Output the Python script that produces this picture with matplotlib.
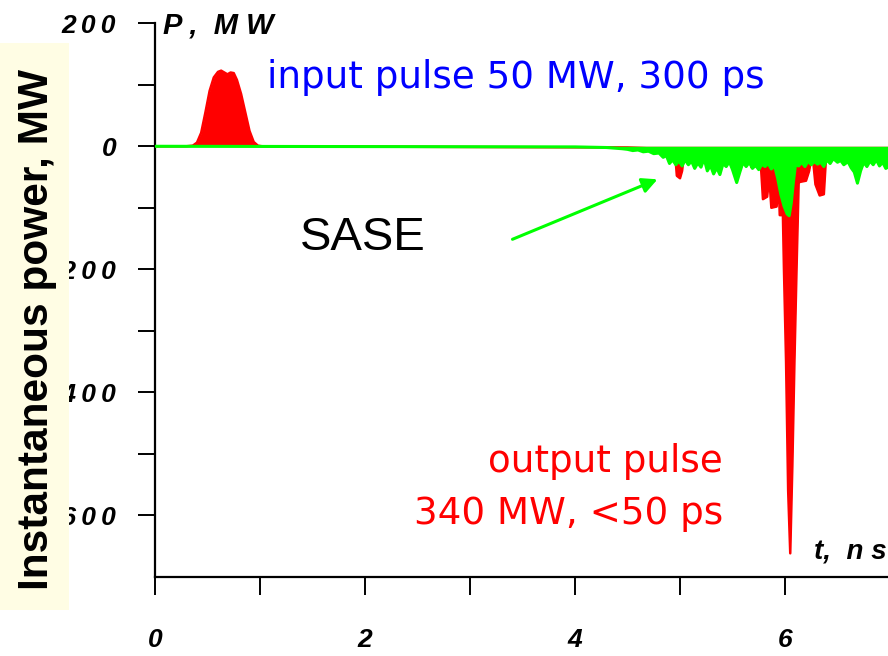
import matplotlib.pyplot as plt
from matplotlib.patches import Rectangle

# output pulse (red), MW; the amplified part is drawn downward
red_t = [0.00, 0.30, 0.36, 0.40, 0.44, 0.48, 0.52, 0.56, 0.60, 0.63, 0.66, 0.69,
         0.72, 0.75, 0.78, 0.82, 0.86, 0.90, 0.94, 0.98, 1.02, 4.50, 4.95, 4.97,
         5.00, 5.02, 5.04, 5.07, 5.09, 5.50, 5.66, 5.68, 5.72, 5.74, 5.77, 5.79,
         5.83, 5.85, 5.87, 5.92, 5.94, 5.95, 5.98, 5.99, 6.01, 6.03, 6.05, 6.07,
         6.09, 6.11, 6.13, 6.14, 6.20, 6.23, 6.26, 6.29, 6.33, 6.37, 6.39, 6.45,
         7.00]
red_p = [0, 0, 1, 6, 22, 55, 90, 112, 121, 123, 120, 117,
         120, 119, 108, 85, 55, 25, 7, 1, 0, -2, -5, -48,
         -52, -40, -10, -28, -8, -10, -15, -34, -32, -10, -30, -86,
         -82, -50, -100, -98, -60, -112, -112, -200, -350, -560, -662, -520,
         -350, -200, -60, -58, -56, -40, -10, -62, -80, -78, -20, -5,
         -5]

# SASE signal (green), MW
green_t = [0.00, 4.00, 4.30, 4.45, 4.50, 4.55, 4.60, 4.65, 4.70, 4.75, 4.80, 4.84,
           4.87, 4.90, 4.93, 4.96, 4.99, 5.02, 5.05, 5.08, 5.11, 5.14, 5.17, 5.20,
           5.23, 5.26, 5.29, 5.32, 5.35, 5.38, 5.41, 5.44, 5.47, 5.50, 5.54, 5.57,
           5.60, 5.63, 5.66, 5.69, 5.72, 5.75, 5.78, 5.81, 5.84, 5.87, 5.90, 5.93,
           5.96, 5.99, 6.02, 6.04, 6.06, 6.08, 6.10, 6.13, 6.16, 6.19, 6.22, 6.25,
           6.28, 6.31, 6.34, 6.37, 6.40, 6.43, 6.46, 6.50, 6.53, 6.56, 6.60, 6.63,
           6.66, 6.69, 6.72, 6.75, 6.78, 6.81, 6.84, 6.87, 6.90, 6.93, 6.96, 7.00]
green_p = [0, -1, -2, -4, -5, -7, -6, -9, -8, -12, -11, -18,
           -15, -28, -22, -30, -24, -32, -22, -30, -24, -36, -27, -34,
           -20, -40, -31, -45, -35, -46, -28, -33, -25, -38, -59, -42,
           -26, -33, -26, -36, -31, -38, -29, -33, -28, -37, -31, -52,
           -78, -97, -110, -113, -92, -58, -30, -32, -26, -33, -24, -30,
           -25, -29, -26, -33, -22, -28, -20, -26, -23, -30, -25, -35,
           -42, -60, -40, -26, -33, -24, -30, -22, -32, -26, -36, -32]

y_ticks = [200, 100, 0, -100, -200, -300, -400, -500, -600]
y_labels = ['2\u20090\u20090', '', '0', '', '\u22122\u20090\u20090', '',
            '\u22124\u20090\u20090', '', '\u22126\u20090\u20090']
x_ticks = [0, 1, 2, 3, 4, 5, 6, 7]
x_labels = ['0', '', '2', '', '4', '', '6', '']

fam = ['Liberation Sans', 'DejaVu Sans']

fig = plt.figure(figsize=(8.88, 6.56), dpi=100)
ax = fig.add_axes([155 / 888, 1 - 576.7 / 656, 735 / 888, 553.4 / 656])

ax.fill_between(red_t, red_p, 0, color='#ff0000', lw=0, zorder=2)
ax.plot(red_t, red_p, color='#ff0000', lw=1.8, zorder=2)
ax.fill_between(green_t, green_p, 0, color='#00ff00', lw=0, zorder=3)
ax.plot(green_t, green_p, color='#00ff00', lw=2.2, zorder=3)

ax.set_xlim(0, 7)
ax.set_ylim(-700, 200)
for s in ['top', 'right']:
    ax.spines[s].set_visible(False)
for s in ['left', 'bottom']:
    ax.spines[s].set_linewidth(1.6)
    ax.spines[s].set_clip_on(False)

ax.set_yticks(y_ticks)
ax.set_yticklabels(y_labels, family=fam, fontsize=19, fontweight='bold', style='italic')
ax.set_xticks(x_ticks)
ax.set_xticklabels(x_labels, family=fam, fontsize=19, fontweight='bold', style='italic')
ax.tick_params(axis='y', direction='out', length=12, width=1.4, pad=16)
ax.tick_params(axis='x', direction='out', length=13, width=1.4, pad=24)

ax.annotate('', xy=(4.81, -52), xytext=(3.38, -153),
            arrowprops=dict(arrowstyle='-|>,head_length=0.9,head_width=0.45',
                            color='#00ff00', lw=2.2))

fig.text(267 / 888, 1 - 78 / 656, 'input pulse 50 MW, 300 ps', color='#0000ff',
         fontsize=26.8, family='DejaVu Sans', ha='left', va='center')
fig.text(723 / 888, 1 - 462 / 656, 'output pulse', color='#ff0000',
         fontsize=26.8, family='DejaVu Sans', ha='right', va='center')
fig.text(723 / 888, 1 - 513 / 656, '340 MW, <50 ps', color='#ff0000',
         fontsize=26.8, family='DejaVu Sans', ha='right', va='center')
fig.text(300 / 888, 1 - 238 / 656, 'SASE', color='black',
         fontsize=34, family=fam, ha='left', va='center')
fig.text(163 / 888, 1 - 25 / 656, 'P ,  M W', color='black', fontsize=21,
         family=fam, fontweight='bold', style='italic', ha='left', va='center')
fig.text(887 / 888, 1 - 553 / 656, 't,  n s', color='black', fontsize=20,
         family=fam, fontweight='bold', style='italic', ha='right', va='center')

# label box over the y tick labels
fig.add_artist(Rectangle((0, 1 - 610 / 656), 69 / 888, 567 / 656,
                         transform=fig.transFigure, facecolor='#fffde4',
                         edgecolor='none', zorder=5))
fig.text(37 / 888, 1 - 330 / 656, 'Instantaneous power, MW', rotation=90,
         fontsize=30.5, fontweight='bold', family=fam, ha='center', va='center',
         zorder=6)

fig.savefig('out.png', dpi=100)
